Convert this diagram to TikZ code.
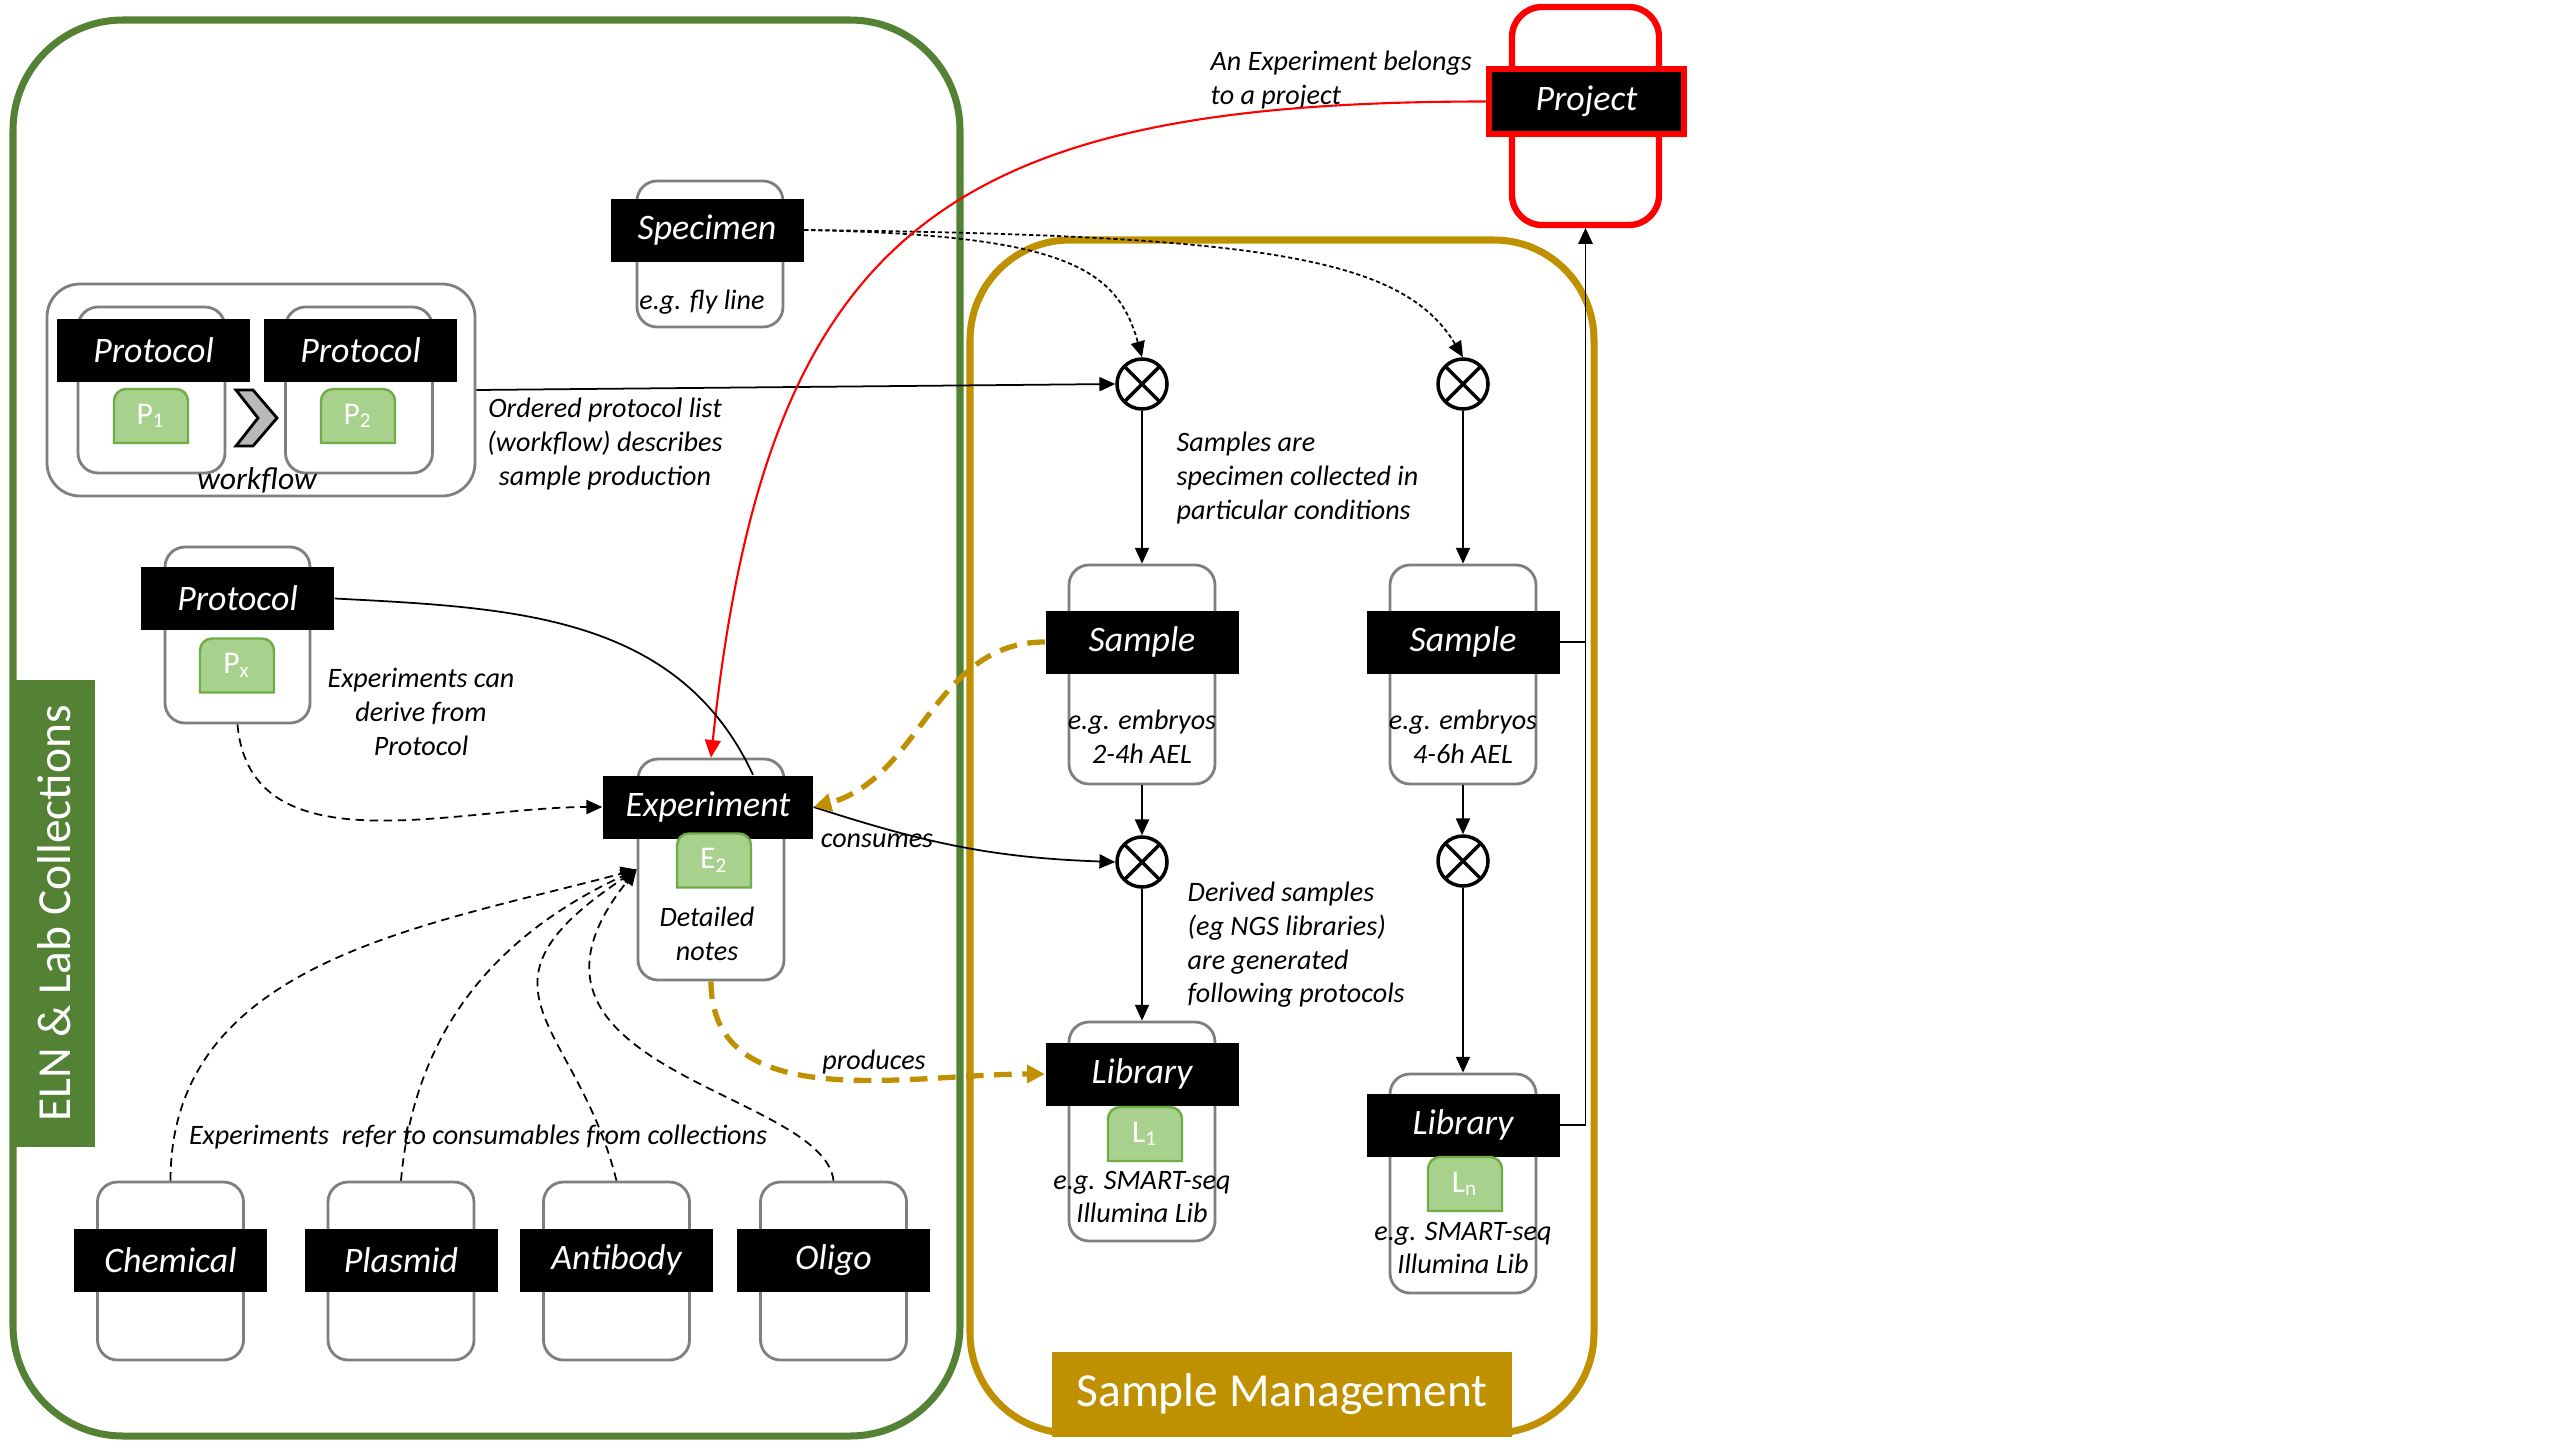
\documentclass[tikz,border=0pt]{standalone}
\usepackage{fontspec}
\setmainfont{Carlito}
\usetikzlibrary{arrows.meta}
\definecolor{elngreen}{HTML}{548235}
\definecolor{smgold}{HTML}{BF9000}
\definecolor{chipfill}{HTML}{A9D18E}
\definecolor{chipedge}{HTML}{70AD47}
\definecolor{cardgray}{HTML}{7F7F7F}

\begin{document}
\begin{tikzpicture}[
    card/.style={draw=cardgray, line width=0.8pt, rounded corners=0.2cm, fill=white, minimum width=1.46cm, inner sep=0pt},
    tag/.style={fill=black, text=white, font=\itshape\fontsize{10.2}{12}\selectfont, minimum width=1.93cm, minimum height=0.63cm, inner sep=0pt},
    note/.style={font=\itshape\fontsize{8}{9.6}\selectfont, inner sep=0pt},
    chipline/.style={fill=chipfill, draw=chipedge, line width=0.7pt},
    chiptext/.style={text=white, font=\fontsize{9}{10}\selectfont, inner sep=0pt},
    xing/.style={circle, draw, line width=1pt, minimum size=0.5cm, inner sep=0pt,
      path picture={\draw[line width=1pt] (path picture bounding box.north west) -- (path picture bounding box.south east)
        (path picture bounding box.south west) -- (path picture bounding box.north east);}},
    link/.style={-{Triangle[length=4.5pt,width=4pt]}, line width=0.5pt},
    dotlink/.style={link, dash pattern=on 1.2pt off 0.8pt},
    dashlink/.style={link, dash pattern=on 2.4pt off 1.6pt},
    goldlink/.style={-{Triangle[length=5pt,width=5pt]}, draw=smgold, line width=1.5pt, dash pattern=on 5pt off 3pt},
    redlink/.style={-{Triangle[length=5pt,width=4.5pt]}, draw=red, line width=0.6pt}
  ]
  \useasboundingbox (0,0) rectangle (25.6,-14.4);

  % the two domains
  \draw[elngreen, line width=2pt, rounded corners=1.1cm] (0.13,-0.20) rectangle (9.60,-14.36);
  \draw[smgold, line width=2pt, rounded corners=1cm] (9.70,-2.40) rectangle (15.94,-14.33);
  \node[fill=elngreen, text=white, rotate=90, minimum width=4.67cm, minimum height=0.82cm, font=\fontsize{13.5}{15}\selectfont] (elnlab) at (0.54,-9.135) {ELN \& Lab Collections};
  \node[fill=smgold, text=white, minimum width=4.6cm, minimum height=0.85cm, font=\fontsize{13.5}{15}\selectfont] (smlab) at (12.82,-13.945) {Sample Management};

  % project
  \node[card, draw=red, line width=1.8pt, rounded corners=0.3cm, minimum width=1.47cm, minimum height=2.18cm] (projcard) at (15.855,-1.16) {};
  \node[tag, draw=red, line width=1.5pt, minimum width=1.95cm, minimum height=0.65cm] (projtag) at (15.865,-1.015) {Project};
  \node[note, align=left, anchor=west] (projnote) at (12.10,-0.80) {An Experiment belongs\\to a project};

  % specimen
  \node[card, minimum height=1.46cm] (speccard) at (7.10,-2.54) {};
  \node[tag] (spectag) at (7.07,-2.30) {Specimen};
  \node[note] (specnote) at (7.02,-3.02) {e.g. fly line};

  % workflow of protocols
  \node[draw=cardgray, line width=0.8pt, rounded corners=0.33cm, minimum width=4.28cm, minimum height=2.12cm] (wfbox) at (2.61,-3.90) {};
  \node[card, minimum width=1.47cm, minimum height=1.66cm] (wf1card) at (1.515,-3.90) {};
  \node[tag] (wf1tag) at (1.535,-3.50) {Protocol};
  \node[card, minimum width=1.47cm, minimum height=1.66cm] (wf2card) at (3.59,-3.90) {};
  \node[tag] (wf2tag) at (3.605,-3.50) {Protocol};
  \filldraw[fill=gray!55, line width=0.8pt] (2.36,-3.90) -- (2.53,-3.90) -- (2.77,-4.18) -- (2.53,-4.46) -- (2.36,-4.46) -- (2.58,-4.18) -- cycle;
  \node[note, font=\itshape\fontsize{9}{10}\selectfont] (wfnote) at (2.57,-4.80) {workflow};
  \node[note, align=center] (ordnote) at (6.05,-4.44) {Ordered protocol list\\(workflow) describes\\sample production};

  % protocol of an experiment
  \node[card, minimum width=1.45cm, minimum height=1.76cm] (pxcard) at (2.375,-6.35) {};
  \node[tag] (pxtag) at (2.375,-5.985) {Protocol};
  \node[note, align=center] (pxnote) at (4.21,-7.12) {Experiments can\\derive from\\Protocol};

  % experiment
  \node[card, minimum height=2.21cm] (expcard) at (7.11,-8.695) {};
  \node[tag, minimum width=2.1cm] (exptag) at (7.08,-8.07) {Experiment};
  \node[note, align=center] (expnote) at (7.07,-9.34) {Detailed\\notes};

  % samples and libraries
  \node[card, minimum height=2.19cm] (s1card) at (11.42,-6.745) {};
  \node[tag] (s1tag) at (11.42,-6.42) {Sample};
  \node[note, align=center] (s1note) at (11.42,-7.365) {e.g. embryos\\2-4h AEL};
  \node[card, minimum height=2.19cm] (s2card) at (14.63,-6.745) {};
  \node[tag] (s2tag) at (14.63,-6.42) {Sample};
  \node[note, align=center] (s2note) at (14.63,-7.365) {e.g. embryos\\4-6h AEL};
  \node[card, minimum height=2.19cm] (l1card) at (11.42,-11.315) {};
  \node[tag] (l1tag) at (11.42,-10.74) {Library};
  \node[note, align=center] (l1note) at (11.42,-11.97) {e.g. SMART-seq\\Illumina Lib};
  \node[card, minimum height=2.19cm] (l2card) at (14.63,-11.835) {};
  \node[tag] (l2tag) at (14.63,-11.25) {Library};
  \node[note, align=center] (l2note) at (14.63,-12.48) {e.g. SMART-seq\\Illumina Lib};
  \node[note, align=left, anchor=west] (samnote) at (11.76,-4.78) {Samples are\\specimen collected in\\particular conditions};
  \node[note, align=left, anchor=west] (dernote) at (11.87,-9.45) {Derived samples\\(eg NGS libraries)\\are generated\\following protocols};

  % green chips
  \foreach \n/\x/\y/\t in {p1/1.51/-4.16/{P\textsubscript{1}}, p2/3.58/-4.16/{P\textsubscript{2}}, px/2.37/-6.655/{P\textsubscript{x}},
      e2/7.14/-8.605/{E\textsubscript{2}}, l1/11.45/-11.34/{L\textsubscript{1}}, ln/14.65/-11.84/{L\textsubscript{n}}} {
    \filldraw[chipline] (\x-0.37,\y) [rounded corners=0.12cm] -- (\x-0.37,\y+0.27) -- (\x+0.37,\y+0.27) -- (\x+0.37,\y)
      [sharp corners] -- (\x+0.37,\y-0.27) -- (\x-0.37,\y-0.27) -- cycle;
    \node[chiptext] (\n) at (\x,\y) {\t};
  }

  % consumables
  \foreach \n/\x/\t in {chem/1.705/Chemical, plas/4.01/Plasmid, anti/6.165/Antibody, olig/8.335/Oligo} {
    \node[card, minimum height=1.78cm] (\n-card) at (\x,-12.71) {};
    \node[tag] (\n-tag) at (\x,-12.60) {\t};
  }
  \node[note] (colnote) at (4.78,-11.37) {Experiments\ \ refer to consumables from collections};

  \node[xing] (cross1) at (11.42,-3.84) {};
  \node[xing] (cross2) at (14.63,-3.84) {};
  \node[xing] (cross3) at (11.42,-8.62) {};
  \node[xing] (cross4) at (14.63,-8.61) {};

  \draw[dotlink] (spectag.east) .. controls +(2.6,-0.05) and +(-0.25,0.9) .. (cross1.north);
  \draw[dotlink] (spectag.east) .. controls +(4.6,-0.05) and +(-0.6,1.0) .. (cross2.north);
  \draw[link] (wfbox.east) -- (cross1.west);
  \draw[link] (cross1) -- (s1card);
  \draw[link] (cross2) -- (s2card);
  \draw[link] (s1card) -- (cross3);
  \draw[link] (s2card) -- (cross4);
  \draw[link] (cross3) -- (l1card);
  \draw[link] (cross4) -- (l2card);
  \draw[link] (s2tag.east) -| (projcard.south);
  \draw[link] (l2tag.east) -| (projcard.south);
  \draw[redlink] (projtag.west) to[out=180,in=84,looseness=1.35] (expcard.north);
  \draw[line width=0.5pt] (pxtag.east) to[out=-3,in=115] ([xshift=0.45cm]exptag.north);
  \draw[link] (exptag.east) to[out=-18,in=178] (cross3.west);
  \node[note] (consnote) at (8.77,-8.41) {consumes};
  \draw[dashlink] (pxcard.south) to[out=-85,in=180] (exptag.west);
  \draw[goldlink] (s1tag.west) to[out=180,in=15] (exptag.east);
  \draw[goldlink] (expcard.south) to[out=-90,in=180] (l1tag.west);
  \node[note] (prodnote) at (8.74,-10.62) {produces};
  \draw[dashlink] (chem-card.north) to[out=90,in=195] (expcard.west);
  \draw[dashlink] (plas-card.north) to[out=85,in=205] (expcard.west);
  \draw[dashlink] (anti-card.north) .. controls +(-0.4,1.6) and +(-1.8,-1.2) .. (expcard.west);
  \draw[dashlink] (olig-card.north) .. controls +(-0.1,0.9) and +(-1.6,-2.0) .. (expcard.west);
\end{tikzpicture}
\end{document}
